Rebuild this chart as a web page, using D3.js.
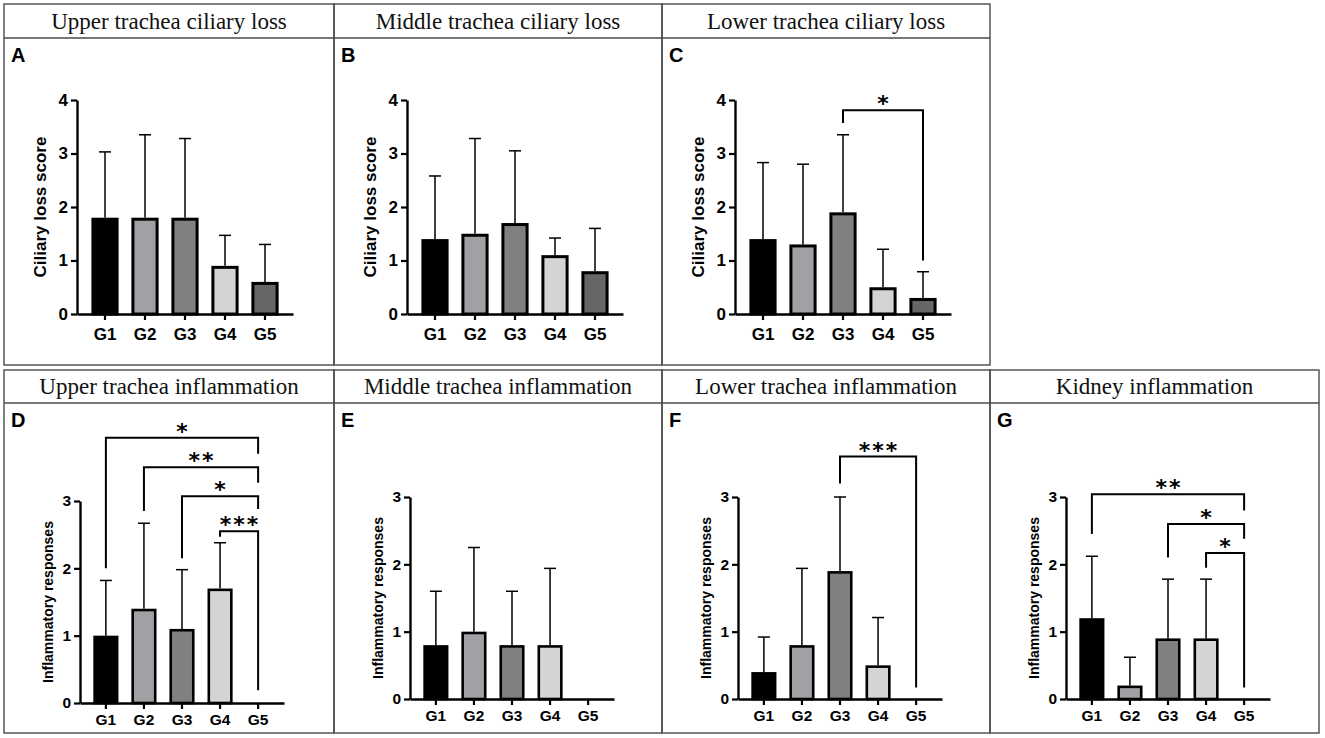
<!DOCTYPE html>
<html>
<head>
  <meta charset="UTF-8">
  <title>Trachea and kidney histopathology scores</title>
  <script src="https://d3js.org/d3.v7.min.js"></script>
  <style>
    body { margin: 0; background: #fff; }
    svg text { font-family: "Liberation Sans", Arial, sans-serif; }
  </style>
</head>
<body>
<div id="chart"></div>
<script>
// ---- data ----
const groups = ["G1", "G2", "G3", "G4", "G5"];
const groupColors = ["#000000", "#a1a1a5", "#808080", "#d4d4d4", "#666666"];

const panelLetters = ["A", "B", "C", "D", "E", "F", "G"];
const panelTitles = [
  "Upper trachea ciliary loss", "Middle trachea ciliary loss", "Lower trachea ciliary loss",
  "Upper trachea inflammation", "Middle trachea inflammation", "Lower trachea inflammation",
  "Kidney inflammation"
];
const yLabels = ["Ciliary loss score", "Inflammatory responses"];
const yTicksTop = [0, 1, 2, 3, 4];
const yTicksBottom = [0, 1, 2, 3];

// means and SD (upper error bar = mean + SD)
const upperCiliary = [1.8, 1.8, 1.8, 0.9, 0.6];
const upperCiliarySD = [1.23, 1.55, 1.48, 0.57, 0.7];
const middleCiliary = [1.4, 1.5, 1.7, 1.1, 0.8];
const middleCiliarySD = [1.18, 1.78, 1.35, 0.32, 0.8];
const lowerCiliary = [1.4, 1.3, 1.9, 0.5, 0.3];
const lowerCiliarySD = [1.43, 1.5, 1.45, 0.71, 0.49];
const upperInflam = [1.0, 1.4, 1.1, 1.7, 0];
const upperInflamSD = [0.82, 1.27, 0.88, 0.68, 0];
const middleInflam = [0.8, 1.0, 0.8, 0.8, 0];
const middleInflamSD = [0.8, 1.25, 0.8, 1.14, 0];
const lowerInflam = [0.4, 0.8, 1.9, 0.5, 0];
const lowerInflamSD = [0.52, 1.14, 1.1, 0.71, 0];
const kidneyInflam = [1.2, 0.2, 0.9, 0.9, 0];
const kidneyInflamSD = [0.92, 0.42, 0.88, 0.88, 0];

// significance brackets: [from, to, bracket level, left leg end, right leg end, label]
const bracketsC = [["G3", "G5", 3.81, 3.57, 1.0, "*"]];
const bracketsD = [
  ["G1", "G5", 3.94, 2.0, 3.7, "*"],
  ["G2", "G5", 3.5, 2.85, 3.27, "**"],
  ["G3", "G5", 3.07, 2.15, 2.88, "*"],
  ["G4", "G5", 2.55, 2.47, 0.19, "***"]
];
const bracketsF = [["G3", "G5", 3.6, 3.2, 0.17, "***"]];
const bracketsG = [
  ["G1", "G5", 3.04, 2.45, 2.8, "**"],
  ["G3", "G5", 2.6, 2.1, 2.38, "*"],
  ["G4", "G5", 2.17, 1.95, 0.17, "*"]
];

const panelMeans = [upperCiliary, middleCiliary, lowerCiliary, upperInflam, middleInflam, lowerInflam, kidneyInflam];
const panelSDs = [upperCiliarySD, middleCiliarySD, lowerCiliarySD, upperInflamSD, middleInflamSD, lowerInflamSD, kidneyInflamSD];
const panelBrackets = [[], [], bracketsC, bracketsD, [], bracketsF, bracketsG];

// ---- layout ----
const W = 1325, H = 738;
const colEdges = [4, 334, 662, 990, 1319];
const rows = [
  { top: 4, sep: 38, bottom: 365, axisOff: 73, y0: 314, yT: 100, xw: 216, pi: 0.32, po: 0.36,
    tickFont: 17, labelFont: 17, labelOff: 37, tickPad: 8, barStroke: 3 },
  { top: 370, sep: 403, bottom: 733, axisOff: 76, y0: 699, yT: 497, xw: 204, pi: 0.34, po: 0.35,
    tickFont: 15.5, labelFont: 14, labelOff: 32, tickPad: 5, barStroke: 2.6 }
];

const svg = d3.select("#chart").append("svg")
  .attr("width", W)
  .attr("height", H);

panelTitles.forEach(function(title, i) {
  const r = i < 3 ? rows[0] : rows[1];
  const col = i < 3 ? i : i - 3;
  const left = colEdges[col], right = colEdges[col + 1];
  const shift = i === 3 ? 4 : 0;   // panel D sits a little lower

  // frame
  svg.append("rect")
    .attr("x", left).attr("y", r.top)
    .attr("width", right - left).attr("height", r.bottom - r.top)
    .attr("fill", "none").attr("stroke", "#4a4a4a").attr("stroke-width", 1.4);
  svg.append("line")
    .attr("x1", left).attr("x2", right)
    .attr("y1", r.sep).attr("y2", r.sep)
    .attr("stroke", "#4a4a4a").attr("stroke-width", 1.4);

  svg.append("text")
    .attr("x", (left + right) / 2)
    .attr("y", r.sep - 9)
    .attr("text-anchor", "middle")
    .style("font-family", "'Liberation Serif', 'Times New Roman', serif")
    .style("font-size", "23px")
    .attr("fill", "#111")
    .text(title);

  svg.append("text")
    .attr("x", left + 7)
    .attr("y", r.sep + 24)
    .style("font-size", "20px")
    .style("font-weight", "bold")
    .text(panelLetters[i]);

  // chart
  const ax = left + r.axisOff;
  const g = svg.append("g").attr("transform", "translate(" + ax + ",0)");

  const yTicks = i < 3 ? yTicksTop : yTicksBottom;
  const y = d3.scaleLinear()
    .domain([0, d3.max(yTicks)])
    .range([r.y0 + shift, r.yT + shift]);

  const x = d3.scaleBand()
    .domain(groups)
    .range([0, r.xw])
    .paddingInner(r.pi)
    .paddingOuter(r.po);

  const means = panelMeans[i], sds = panelSDs[i];
  const data = groups.map((grp, k) => ({ grp: grp, mean: means[k], sd: sds[k], color: groupColors[k] }));

  // error bars (drawn first so bars cover the lower part)
  const eb = g.selectAll(".err")
    .data(data.filter(d => d.sd > 0))
    .enter().append("g").attr("class", "err");
  eb.append("line")
    .attr("x1", d => x(d.grp) + x.bandwidth() / 2)
    .attr("x2", d => x(d.grp) + x.bandwidth() / 2)
    .attr("y1", d => y(d.mean))
    .attr("y2", d => y(d.mean + d.sd))
    .attr("stroke", "#000").attr("stroke-width", 1.5);
  eb.append("line")
    .attr("x1", d => x(d.grp) + x.bandwidth() / 2 - 6)
    .attr("x2", d => x(d.grp) + x.bandwidth() / 2 + 6)
    .attr("y1", d => y(d.mean + d.sd))
    .attr("y2", d => y(d.mean + d.sd))
    .attr("stroke", "#000").attr("stroke-width", 1.5);

  g.selectAll(".bar")
    .data(data.filter(d => d.mean > 0))
    .enter().append("rect")
    .attr("class", "bar")
    .attr("x", d => x(d.grp) + r.barStroke / 2)
    .attr("y", d => y(d.mean) + r.barStroke / 2)
    .attr("width", x.bandwidth() - r.barStroke)
    .attr("height", d => y(0) - y(d.mean) - r.barStroke / 2)
    .attr("fill", d => d.color)
    .attr("stroke", "#000")
    .attr("stroke-width", r.barStroke);

  // axes
  const yAxis = g.append("g")
    .call(d3.axisLeft(y).tickValues(yTicks).tickFormat(d3.format("d")).tickSizeInner(6).tickSizeOuter(0).tickPadding(3));
  const xAxis = g.append("g")
    .attr("transform", "translate(0," + y(0) + ")")
    .call(d3.axisBottom(x).tickSizeInner(6).tickSizeOuter(0).tickPadding(r.tickPad));
  [yAxis, xAxis].forEach(function(a) {
    a.select(".domain").attr("stroke", "#000").attr("stroke-width", 2.4);
    a.selectAll(".tick line").attr("stroke", "#000").attr("stroke-width", 2.2);
    a.selectAll(".tick text")
      .attr("fill", "#000")
      .style("font-family", "'Liberation Sans', Arial, sans-serif")
      .style("font-size", r.tickFont + "px")
      .style("font-weight", "bold");
  });

  g.append("text")
    .attr("transform", "rotate(-90)")
    .attr("x", -(y(0) + y(d3.max(yTicks))) / 2)
    .attr("y", -r.labelOff)
    .attr("dy", "0.35em")
    .attr("text-anchor", "middle")
    .style("font-size", r.labelFont + "px")
    .style("font-weight", "bold")
    .text(i < 3 ? yLabels[0] : yLabels[1]);

  // significance brackets
  const cx = grp => x(grp) + x.bandwidth() / 2;
  panelBrackets[i].forEach(function(b) {
    const x1 = cx(b[0]), x2 = cx(b[1]);
    g.append("path")
      .attr("d", "M" + x1 + "," + y(b[3]) + "V" + y(b[2]) + "H" + x2 + "V" + y(b[4]))
      .attr("fill", "none")
      .attr("stroke", "#000")
      .attr("stroke-width", 2);
    g.append("text")
      .attr("x", (x1 + x2) / 2 + 1)
      .attr("y", y(b[2]) + 1)
      .attr("text-anchor", "middle")
      .style("font-family", "'DejaVu Sans', sans-serif")
      .style("font-size", "22px")
      .style("font-weight", "bold")
      .style("letter-spacing", "2px")
      .text(b[5]);
  });
});
</script>
</body>
</html>
